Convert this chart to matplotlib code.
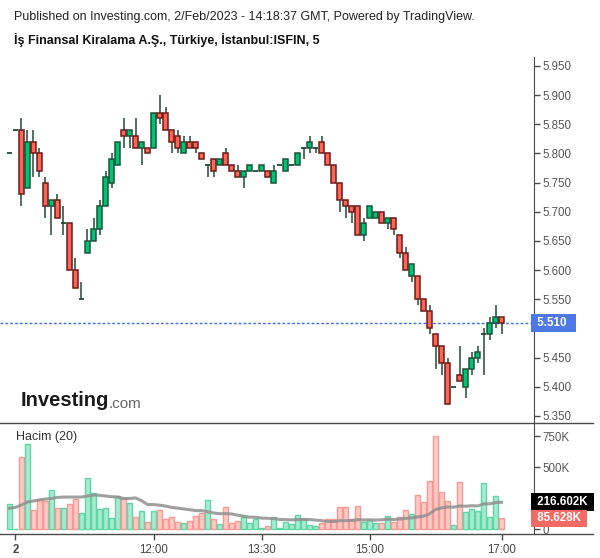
import numpy as np
import pandas as pd
import matplotlib
matplotlib.use("Agg")
import matplotlib.pyplot as plt
from matplotlib.lines import Line2D

plt.rcParams['font.family'] = ['Liberation Sans', 'DejaVu Sans']

# 5 minute bars, ISFIN 2 Feb 2023
opens = [5.80, 5.84, 5.84, 5.74, 5.82, 5.80, 5.75, 5.71, 5.72, 5.68,
         5.68, 5.60, 5.55, 5.63, 5.65, 5.67, 5.71, 5.75, 5.78, 5.84,
         5.83, 5.83, 5.81, 5.81, 5.81, 5.87, 5.87, 5.84, 5.83, 5.80,
         5.82, 5.82, 5.80, 5.78, 5.79, 5.78, 5.80, 5.78, 5.77, 5.76,
         5.77, 5.77, 5.77, 5.77, 5.75, 5.78, 5.77, 5.78, 5.78, 5.81,
         5.81, 5.81, 5.82, 5.80, 5.78, 5.75, 5.72, 5.71, 5.71, 5.66,
         5.69, 5.69, 5.70, 5.68, 5.69, 5.66, 5.63, 5.59, 5.59, 5.55,
         5.53, 5.49, 5.47, 5.44, 5.40, 5.42, 5.40, 5.43, 5.45, 5.49,
         5.49, 5.51, 5.52]
highs = [5.80, 5.84, 5.86, 5.84, 5.84, 5.81, 5.76, 5.72, 5.73, 5.71,
         5.68, 5.62, 5.58, 5.67, 5.69, 5.72, 5.77, 5.80, 5.82, 5.86,
         5.84, 5.86, 5.82, 5.81, 5.87, 5.90, 5.88, 5.84, 5.84, 5.83,
         5.83, 5.82, 5.80, 5.78, 5.79, 5.79, 5.81, 5.78, 5.78, 5.77,
         5.78, 5.77, 5.78, 5.77, 5.78, 5.78, 5.79, 5.78, 5.80, 5.81,
         5.83, 5.81, 5.83, 5.80, 5.78, 5.75, 5.72, 5.71, 5.71, 5.69,
         5.71, 5.70, 5.70, 5.69, 5.69, 5.66, 5.64, 5.61, 5.59, 5.55,
         5.54, 5.49, 5.47, 5.45, 5.40, 5.47, 5.43, 5.46, 5.47, 5.50,
         5.52, 5.54, 5.52]
lows = [5.80, 5.84, 5.71, 5.74, 5.76, 5.76, 5.69, 5.66, 5.69, 5.66,
        5.60, 5.57, 5.55, 5.63, 5.65, 5.66, 5.71, 5.74, 5.78, 5.81,
        5.81, 5.81, 5.78, 5.80, 5.81, 5.85, 5.84, 5.80, 5.80, 5.80,
        5.81, 5.80, 5.79, 5.76, 5.76, 5.78, 5.78, 5.77, 5.76, 5.74,
        5.77, 5.77, 5.77, 5.76, 5.75, 5.78, 5.77, 5.78, 5.78, 5.79,
        5.80, 5.80, 5.80, 5.78, 5.75, 5.70, 5.69, 5.68, 5.66, 5.65,
        5.69, 5.69, 5.68, 5.67, 5.66, 5.62, 5.60, 5.58, 5.54, 5.53,
        5.49, 5.43, 5.42, 5.37, 5.40, 5.41, 5.38, 5.42, 5.44, 5.42,
        5.48, 5.50, 5.49]
closes = [5.80, 5.84, 5.73, 5.82, 5.80, 5.77, 5.71, 5.72, 5.69, 5.68,
          5.60, 5.57, 5.55, 5.65, 5.67, 5.71, 5.76, 5.79, 5.82, 5.83,
          5.84, 5.81, 5.82, 5.80, 5.87, 5.86, 5.84, 5.82, 5.81, 5.82,
          5.81, 5.81, 5.79, 5.78, 5.77, 5.79, 5.78, 5.77, 5.76, 5.77,
          5.78, 5.77, 5.78, 5.76, 5.77, 5.78, 5.79, 5.78, 5.80, 5.81,
          5.82, 5.81, 5.80, 5.78, 5.75, 5.72, 5.71, 5.70, 5.66, 5.68,
          5.71, 5.70, 5.68, 5.69, 5.67, 5.63, 5.60, 5.61, 5.55, 5.53,
          5.50, 5.47, 5.44, 5.37, 5.40, 5.41, 5.43, 5.45, 5.46, 5.49,
          5.51, 5.52, 5.51]
# volume in thousands
volumes = [199, 2, 581, 685, 151, 239, 226, 312, 167, 167,
           199, 239, 126, 409, 288, 159, 167, 86, 264, 253,
           207, 94, 143, 54, 143, 151, 78, 94, 54, 46,
           62, 102, 126, 231, 78, 38, 175, 46, 62, 94,
           46, 78, 10, 24, 94, 10, 54, 38, 110, 78,
           30, 22, 46, 78, 78, 175, 175, 78, 183, 54,
           70, 46, 46, 102, 54, 94, 151, 118, 272, 215,
           384, 747, 298, 226, 30, 376, 134, 159, 143, 368,
           94, 264, 85.628]
# volume MA(20) for the first bars (needs previous day data)
vol_ma_head = [167, 175, 194, 218, 226, 234, 242, 247, 255, 258,
               258, 258, 258, 266, 274, 272, 266, 261, 258]

tick_pos = [1, 24, 42, 60, 82]
tick_labels = ['2', '12:00', '13:30', '15:00', '17:00']
price_ticks = [5.35, 5.40, 5.45, 5.50, 5.55, 5.60, 5.65, 5.70, 5.75, 5.80, 5.85, 5.90, 5.95]
vol_ticks = [0, 250, 500, 750]
last_price = 5.51

o = np.array(opens); h = np.array(highs); l = np.array(lows); c = np.array(closes)
v = np.array(volumes)
x = np.arange(len(o))
up = c >= o

ma = pd.Series(v).rolling(20).mean().to_numpy()
ma[:len(vol_ma_head)] = vol_ma_head

W, H = 600, 558
def rect(left, top, right, bottom):
    return [left / W, 1 - bottom / H, (right - left) / W, (bottom - top) / H]

fig = plt.figure(figsize=(6, 5.58), dpi=100)
ax = fig.add_axes(rect(0, 57, 534, 423))
axv = fig.add_axes(rect(0, 423, 534, 534))

wick = '#1f4a34'
g_fill, g_edge = '#00c274', '#17553a'
r_fill, r_edge = '#ff6459', '#6e1a17'

# wicks
ax.vlines(x, l, h, color=wick, lw=1.1, zorder=1)
# bodies
doji = o == c
body = ~doji
ax.bar(x[body], np.abs(c - o)[body], bottom=np.minimum(o, c)[body], width=0.72,
       color=np.where(up, g_fill, r_fill)[body],
       edgecolor=np.where(up, g_edge, r_edge)[body], linewidth=1.1, zorder=2)
ax.hlines(o[doji], x[doji] - 0.42, x[doji] + 0.42, color=wick, lw=1.3, zorder=2)

ax.axhline(last_price, color='#3a6cf0', lw=1, ls=(0, (2, 1.5)), zorder=0)

ax.set_xlim(-1.58, 87.4)
ax.set_ylim(5.338, 5.9654)
for s in ['top', 'left', 'bottom']:
    ax.spines[s].set_visible(False)
ax.spines['right'].set_color('#4a4a4a')
ax.yaxis.tick_right()
ax.set_yticks(price_ticks)
# the 5.500 label sits under the last price box
ax.set_yticklabels(['' if abs(p - last_price) < 0.02 else '%.3f' % p for p in price_ticks])
ax.tick_params(axis='y', length=4, width=1, color='#4a4a4a', labelcolor='#555555',
               labelsize=8.3, pad=2)
ax.set_xticks([])
ax.text(1.0, last_price, ' 5.510  ', transform=ax.get_yaxis_transform(), ha='left',
        va='center', color='white', fontsize=8.3, fontweight='bold', zorder=10,
        clip_on=False, bbox=dict(boxstyle='square,pad=0.25', fc='#4d78e6', ec='none'))

# Investing logo
fig.text(21 / W, 1 - 401 / H, 'Investing', fontsize=14.5, fontweight='bold',
         color='#1a1a1a', va='center', ha='left')
fig.text(108.5 / W, 1 - 403.5 / H, '.com', fontsize=11, color='#666666', va='center', ha='left')

# volume pane
axv.bar(x, v, width=0.9, color=np.where(up, '#a6ebd0', '#ffc9c6'),
        edgecolor=np.where(up, '#5fd6a5', '#f79a94'), linewidth=1.0, zorder=1)
axv.plot(x, ma, color='#8f8f8f', lw=2.2, alpha=0.85, zorder=2)
axv.set_xlim(-1.58, 87.4)
axv.set_ylim(-40, 855)
for s in ['top', 'left', 'bottom']:
    axv.spines[s].set_visible(False)
axv.spines['right'].set_color('#4a4a4a')
axv.yaxis.tick_right()
axv.set_yticks(vol_ticks)
# 250K is covered by the value boxes
axv.set_yticklabels(['0', '', '500K', '750K'])
axv.tick_params(axis='y', length=4, width=1, color='#4a4a4a', labelcolor='#555555',
                labelsize=8.3, pad=2)
axv.set_xticks(tick_pos)
axv.set_xticklabels(tick_labels)
axv.tick_params(axis='x', length=4, width=1, color='#4a4a4a', labelcolor='#444444',
                labelsize=8.3, pad=3)
axv.get_xticklabels()[0].set_fontweight('bold')
axv.text(0.03, 0.87, 'Hacim (20)', transform=axv.transAxes, fontsize=9, color='#333333',
         va='center', ha='left')
axv.text(1.0, ma[-1], ' 216.602K ', transform=axv.get_yaxis_transform(), ha='left',
         va='center', color='white', fontsize=8.3, fontweight='bold', zorder=10,
         clip_on=False, bbox=dict(boxstyle='square,pad=0.25', fc='black', ec='none'))
axv.text(1.0, v[-1], ' 85.628K ', transform=axv.get_yaxis_transform(), ha='left',
         va='center', color='white', fontsize=8.3, fontweight='bold', zorder=10,
         clip_on=False, bbox=dict(boxstyle='square,pad=0.25', fc='#f26a63', ec='none'))

# pane separator and bottom axis lines run past the price scale
for yy in [423, 534]:
    fig.add_artist(Line2D([0, 593 / W], [1 - yy / H, 1 - yy / H], color='#4a4a4a', lw=1))

fig.text(14 / W, 1 - 17 / H, 'Published on Investing.com, 2/Feb/2023 - 14:18:37 GMT, Powered by TradingView.',
         fontsize=9, color='#222222', va='center', ha='left')
fig.text(14 / W, 1 - 40 / H, 'İş Finansal Kiralama A.Ş., Türkiye, İstanbul:ISFIN, 5',
         fontsize=9, fontweight='bold', color='#111111', va='center', ha='left')

fig.savefig('out.png', dpi=100)
